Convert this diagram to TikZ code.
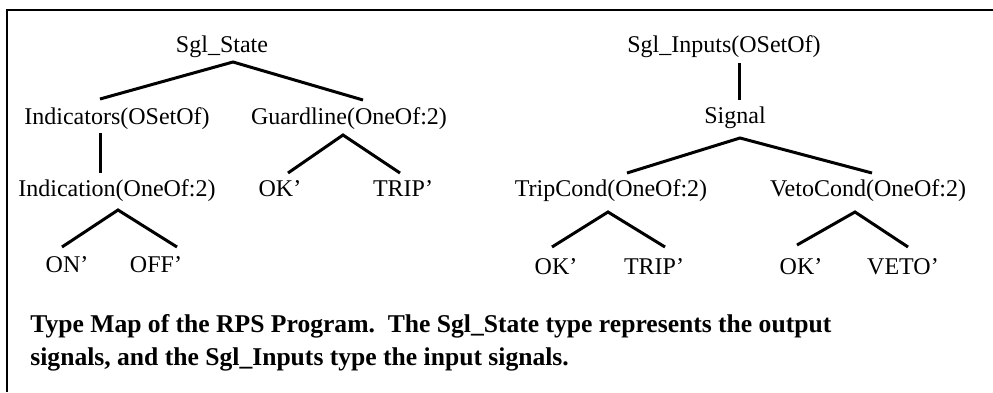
\documentclass[tikz,border=0pt]{standalone}
\usepackage{fontspec}
\setmainfont{Liberation Serif}
\usetikzlibrary{calc}

\tikzset{
  lbl/.style={anchor=base, inner sep=0pt, font=\fontsize{12}{14}\selectfont},
  branch/.style={line width=1.5pt},
  frame/.style={line width=1pt}
}

\begin{document}
\begin{tikzpicture}[x=0.5pt, y=-0.5pt]
    \useasboundingbox (0, 0) rectangle (993, 392);

    % Frame (top and left only)
    \draw [frame] (6.5, 392) -- (6.5, 9.5) -- (993, 9.5);

    % Output tree Sgl_State
    \node (sgl) [lbl] at (222, 52) {Sgl\_State};
    \node (ind) [lbl] at (117, 124) {Indicators(OSetOf)};
    \node (grd) [lbl] at (349, 124) {Guardline(OneOf:2)};
    \node (ion) [lbl] at (117, 196) {Indication(OneOf:2)};
    \node (gok) [lbl] at (280, 196) {OK'};
    \node (gtrip) [lbl] at (403, 196) {TRIP'};
    \node (on) [lbl] at (67, 272) {ON'};
    \node (off) [lbl] at (156, 272) {OFF'};

    \draw [branch] ($(ind.base)+(-17,-25)$) -- ($(sgl.base)+(11,10)$) -- ($(grd.base)+(14,-24)$);
    \draw [branch] ($(ind.base)+(-17,9)$) -- ($(ion.base)+(-17,-23)$);
    \draw [branch] ($(gok.base)+(8,-23)$) -- ($(grd.base)+(-6,11)$) -- ($(gtrip.base)+(-3,-23)$);
    \draw [branch] ($(on.base)+(-5,-25)$) -- ($(ion.base)+(1,14)$) -- ($(off.base)+(21,-25)$);

    % Input tree Sgl_Inputs
    \node (inp) [lbl] at (724, 52) {Sgl\_Inputs(OSetOf)};
    \node (sig) [lbl] at (735, 123) {Signal};
    \node (trc) [lbl] at (611, 196) {TripCond(OneOf:2)};
    \node (vtc) [lbl] at (868, 196) {VetoCond(OneOf:2)};
    \node (tok) [lbl] at (556, 274) {OK'};
    \node (ttrip) [lbl] at (654, 274) {TRIP'};
    \node (vok) [lbl] at (801, 274) {OK'};
    \node (veto) [lbl] at (903, 274) {VETO'};

    \draw [branch] ($(inp.base)+(15,11)$) -- ($(sig.base)+(4,-23)$);
    \draw [branch] ($(trc.base)+(16,-23)$) -- ($(sig.base)+(5,15)$) -- ($(vtc.base)+(4,-23)$);
    \draw [branch] ($(tok.base)+(-4,-27)$) -- ($(trc.base)+(-3,16)$) -- ($(ttrip.base)+(11,-27)$);
    \draw [branch] ($(vok.base)+(-4,-29)$) -- ($(vtc.base)+(-13,16)$) -- ($(veto.base)+(5,-27)$);

    % Caption (base = last line)
    \node (cap) [anchor=base west, inner sep=0pt, align=left,
        font=\fontsize{12.8}{16.5}\selectfont\bfseries] at (30, 365)
        {Type Map of the RPS Program.\ \ The Sgl\_State type represents the output\\
         signals, and the Sgl\_Inputs type the input signals.};
\end{tikzpicture}
\end{document}
